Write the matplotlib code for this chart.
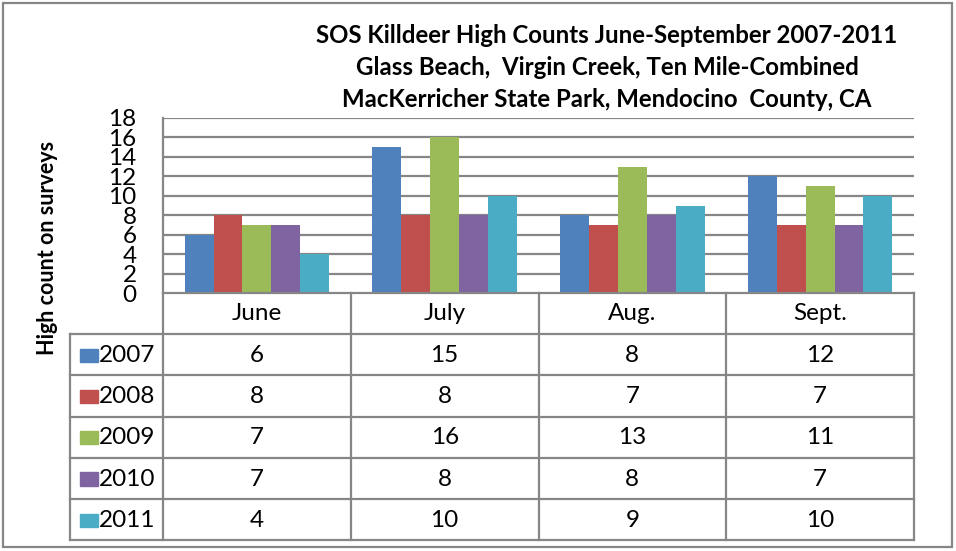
import matplotlib
matplotlib.use('Agg')
import matplotlib.pyplot as plt
from matplotlib.patches import Rectangle

# data
months = ['June', 'July', 'Aug.', 'Sept.']
years = ['2007', '2008', '2009', '2010', '2011']
c2007 = [6, 15, 8, 12]
c2008 = [8, 8, 7, 7]
c2009 = [7, 16, 13, 11]
c2010 = [7, 8, 8, 7]
c2011 = [4, 10, 9, 10]
counts = [c2007, c2008, c2009, c2010, c2011]
colors = ['#4F81BD', '#C0504D', '#9BBB59', '#8064A2', '#4BACC6']
yticks = list(range(0, 19, 2))

plt.rcParams['font.family'] = ['Lato', 'DejaVu Sans']
grid_col = '#868686'
W, H = 956, 551
fs = 17.5

fig = plt.figure(figsize=(W / 100, H / 100), dpi=100)

def fx(px):
    return px / W

def fy(py):
    return 1 - py / H

# plot area (pixels: x 163..914, y 118..293)
left, right, top, bottom = 163, 914, 118, 293
ax = fig.add_axes([fx(left), fy(bottom), fx(right - left), (bottom - top) / H])
ngroups = len(months)
w = 1 / 6.5
for k, (vals, col) in enumerate(zip(counts, colors)):
    xs = [i + (k - 2) * w for i in range(ngroups)]
    ax.bar(xs, vals, width=w, color=col, zorder=3)
ax.set_xlim(-0.5, ngroups - 0.5)
ax.set_ylim(0, 18)
ax.set_yticks(yticks)
ax.set_yticklabels([str(t) for t in yticks], fontsize=fs)
ax.tick_params(axis='y', length=0, pad=19)
ax.set_xticks([])
for t in yticks[1:]:
    ax.axhline(t, color=grid_col, lw=1.6, zorder=1)
for s in ['top', 'right', 'bottom']:
    ax.spines[s].set_visible(False)
ax.spines['left'].set_color(grid_col)
ax.spines['left'].set_linewidth(1.6)

# data table under the plot
tleft, tbottom = 70, 540
unit = (right - left) / ngroups
tax = fig.add_axes([fx(tleft), fy(tbottom), fx(right - tleft), (tbottom - bottom) / H])
xmin = -0.5 - (left - tleft) / unit
tax.set_xlim(xmin, ngroups - 0.5)
nrows = len(years) + 1
tax.set_ylim(nrows, 0)
tax.axis('off')

lk = dict(color=grid_col, lw=1.6, clip_on=False)
tax.plot([-0.5, ngroups - 0.5], [0, 0], **lk)
for r in range(1, nrows + 1):
    tax.plot([xmin, ngroups - 0.5], [r, r], **lk)
tax.plot([xmin, xmin], [1, nrows], **lk)
for c in range(ngroups + 1):
    tax.plot([c - 0.5, c - 0.5], [0, nrows], **lk)

for i, m in enumerate(months):
    tax.text(i, 0.5, m, ha='center', va='center', fontsize=fs)

sw_w = 18 / unit
for r, (yr, vals, col) in enumerate(zip(years, counts, colors), start=1):
    tax.add_patch(Rectangle((xmin + 10 / unit, r + 0.36), sw_w, 0.32, color=col, clip_on=False))
    tax.text(xmin + 29 / unit, r + 0.52, yr, ha='left', va='center', fontsize=fs)
    for i, v in enumerate(vals):
        tax.text(i, r + 0.52, str(v), ha='center', va='center', fontsize=fs)

# titles
title_lines = ['SOS Killdeer High Counts June-September 2007-2011',
               'Glass Beach,  Virgin Creek, Ten Mile-Combined',
               'MacKerricher State Park, Mendocino  County, CA']
for line, yb in zip(title_lines, [43, 75, 107]):
    fig.text(fx(607), fy(yb), line, ha='center', va='baseline',
             fontsize=17.3, fontweight='bold')

fig.text(fx(48), fy(248), 'High count on surveys', rotation=90,
         ha='center', va='center', fontsize=15.5, fontweight='bold')

# outer chart border
fig.add_artist(Rectangle((fx(3), fy(547)), fx(949), (544) / H, fill=False,
                         edgecolor=grid_col, lw=1.6, transform=fig.transFigure))

fig.savefig('out.png', dpi=100)
